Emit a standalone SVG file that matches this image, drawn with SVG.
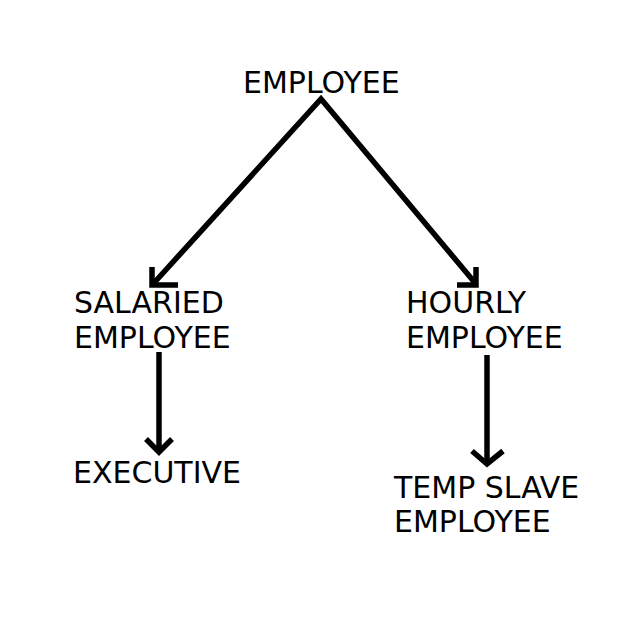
<svg xmlns="http://www.w3.org/2000/svg" width="640" height="640" viewBox="0 0 640 640">
<style>
text{font-family:"DejaVu Sans","Liberation Sans",sans-serif;font-size:30px;fill:#000}
.c{fill:none;stroke:#000;stroke-width:5.5}
</style>
<rect width="640" height="640" fill="#fff"/>
<g id="connectors">
<polyline class="c" points="153,284 321,99 476,284" stroke-linejoin="miter"/>
<polyline class="c" points="152,267 152,285 178,285"/>
<polyline class="c" points="476,267 476,285 457,285"/>
<line class="c" x1="159" y1="352" x2="159" y2="452"/>
<polyline class="c" points="146,439 159,452 172,439"/>
<line class="c" x1="487" y1="355" x2="487" y2="464"/>
<polyline class="c" points="472,451 487,464 503,451"/>
</g>
<g id="employee"><text x="243" y="93">EMPLOYEE</text></g>
<g id="salaried"><text x="74" y="313">SALARIED</text><text x="74" y="348">EMPLOYEE</text></g>
<g id="hourly"><text x="406" y="313">HOURLY</text><text x="406" y="348">EMPLOYEE</text></g>
<g id="executive"><text x="73" y="483">EXECUTIVE</text></g>
<g id="temp"><text x="394" y="498">TEMP SLAVE</text><text x="394" y="532">EMPLOYEE</text></g>
</svg>
